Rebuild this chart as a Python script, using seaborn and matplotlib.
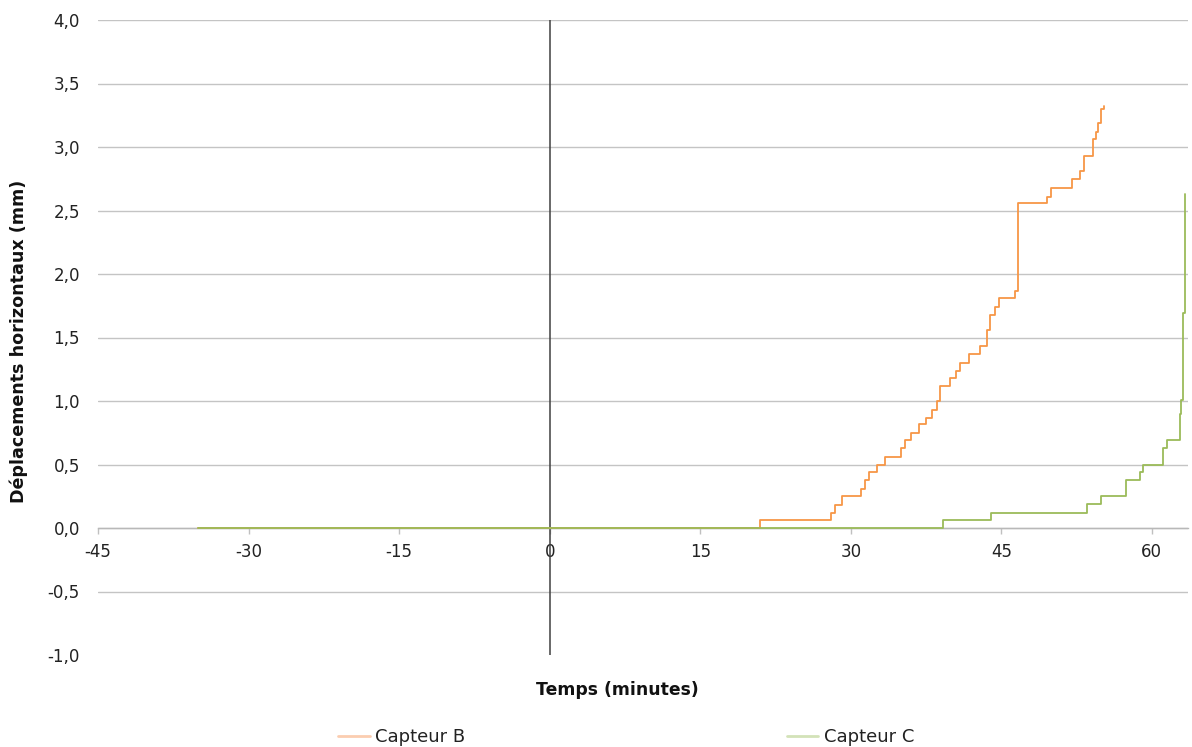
import matplotlib
matplotlib.use("Agg")
import matplotlib.pyplot as plt
from matplotlib.lines import Line2D
import seaborn as sns
import pandas as pd

# ---- data ----
b_time = [-35, 21.0, 28.0, 28.4, 29.15, 31.0, 31.4, 31.8, 32.6, 33.4,
          35.0, 35.4, 36.0, 36.8, 37.5, 38.1, 38.6, 38.9, 39.9, 40.5,
          40.9, 41.8, 42.9, 43.6, 43.9, 44.4, 44.8, 46.4, 46.7, 49.6,
          50.0, 52.0, 52.8, 53.2, 54.1, 54.4, 54.6, 54.9, 55.2]
b_vals = [0, 0.06, 0.12, 0.18, 0.25, 0.31, 0.38, 0.44, 0.50, 0.56,
          0.63, 0.69, 0.75, 0.82, 0.87, 0.93, 1.00, 1.12, 1.18, 1.24,
          1.30, 1.37, 1.43, 1.56, 1.68, 1.74, 1.81, 1.87, 2.56, 2.61,
          2.68, 2.75, 2.81, 2.93, 3.06, 3.12, 3.19, 3.30, 3.32]
c_time = [-35, 39.2, 44.0, 53.55, 54.95, 57.4, 58.8, 59.1, 61.1, 61.5,
          62.8, 62.9, 63.1, 63.35]
c_vals = [0, 0.06, 0.12, 0.19, 0.25, 0.38, 0.44, 0.50, 0.63, 0.69,
          0.90, 1.01, 1.69, 2.63]
series_names = ["Capteur B", "Capteur C"]
x_ticks = [-45, -30, -15, 0, 15, 30, 45, 60]
y_ticks = [-1.0, -0.5, 0.0, 0.5, 1.0, 1.5, 2.0, 2.5, 3.0, 3.5, 4.0]

colors = {"Capteur B": "#f79646", "Capteur C": "#9bbb59"}
legend_colors = {"Capteur B": "#fbcdb0", "Capteur C": "#d3e2b8"}

df = pd.concat([
    pd.DataFrame({"t": b_time, "d": b_vals, "s": series_names[0]}),
    pd.DataFrame({"t": c_time, "d": c_vals, "s": series_names[1]}),
])

sns.set_theme(style="white")
plt.rcParams["font.family"] = ["DejaVu Sans"]

fig = plt.figure(figsize=(11.92, 7.47), dpi=100)
ax = fig.add_axes([98 / 1192, 1 - 655 / 747, (1188 - 98) / 1192, (655 - 20) / 747])

sns.lineplot(data=df, x="t", y="d", hue="s", palette=colors, estimator=None,
             drawstyle="steps-post", linewidth=1.3, legend=False, ax=ax, zorder=3)

ax.set_xlim(-45, 63.6)
ax.set_ylim(-1, 4)
ax.set_yticks(y_ticks)
ax.set_yticklabels([f"{v:.1f}".replace(".", ",") for v in y_ticks])
ax.set_xticks(x_ticks)
ax.set_xticklabels([str(v) for v in x_ticks])
ax.grid(axis="y", color="#c4c4c4", linewidth=1)
ax.grid(axis="x", visible=False)
ax.yaxis.get_gridlines()[0].set_visible(False)

for sp in ["top", "right", "left"]:
    ax.spines[sp].set_visible(False)
ax.spines["bottom"].set_position(("data", 0))
ax.spines["bottom"].set_color("#b8b8b8")
ax.spines["bottom"].set_linewidth(1)
ax.axvline(0, color="#404040", linewidth=1.1, zorder=2)

ax.tick_params(axis="x", direction="out", length=4, width=1, color="#c0c0c0",
               labelsize=12, labelcolor="#222222", pad=7, bottom=True)
ax.tick_params(axis="y", length=0, labelsize=12, labelcolor="#222222", pad=13)
ax.set_xlabel("")
ax.set_ylabel("")

fig.text(617 / 1192, 1 - 690 / 747, "Temps (minutes)", ha="center", va="center",
         fontsize=12.4, fontweight="bold", color="#111111")
fig.text(19 / 1192, 1 - 341 / 747, "Déplacements horizontaux (mm)", ha="center",
         va="center", rotation=90, fontsize=12.6, fontweight="bold", color="#111111")

handles = [Line2D([0], [0], color=legend_colors[n], linewidth=2) for n in series_names]
fig.legend(handles, series_names, loc="center", bbox_to_anchor=(626 / 1192, 1 - 737 / 747),
           ncol=2, frameon=False, fontsize=13, handlelength=1.75, handletextpad=0.3,
           columnspacing=17.8, labelcolor="#222222")

fig.savefig("out.png", dpi=100)
